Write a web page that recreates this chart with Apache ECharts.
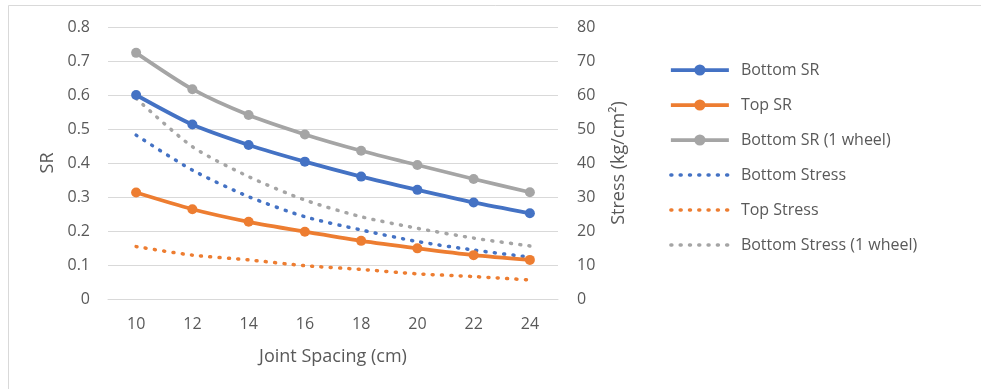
<!DOCTYPE html>
<html>
<head>
<meta charset="utf-8">
<script src="https://cdn.jsdelivr.net/npm/echarts@6/dist/echarts.min.js"></script>
<style>
  html, body { margin: 0; padding: 0; background: #fff; }
  #chart { width: 981px; height: 389px; }
</style>
</head>
<body>
<div id="chart"></div>
<script>
// Joint spacing (cm)
const categories = ['10', '12', '14', '16', '18', '20', '22', '24'];

// Stress ratio series (left axis)
const bottomSR = [0.600, 0.513, 0.453, 0.404, 0.360, 0.321, 0.284, 0.252];
const topSR = [0.313, 0.264, 0.227, 0.198, 0.171, 0.149, 0.129, 0.115];
const bottomSR1Wheel = [0.724, 0.617, 0.541, 0.484, 0.436, 0.394, 0.353, 0.314];

// Stress series in kg/cm² (right axis)
const bottomStress = [48.2, 37.9, 30.1, 24.2, 20.3, 16.9, 14.4, 12.3];
const topStress = [15.4, 12.9, 11.5, 9.8, 8.7, 7.4, 6.6, 5.6];
const bottomStress1Wheel = [59.0, 44.8, 36.0, 29.1, 24.2, 20.8, 17.9, 15.6];

const BLUE = '#4472C4', ORANGE = '#ED7D31', GRAY = '#A5A5A5';
const TEXT = '#595959', GRID = '#D9D9D9';
const FONT = 'Open Sans';
const DOTS = [1, 8.3];

function solid(name, data, color) {
  return {
    name, type: 'line', data, yAxisIndex: 0, smooth: 0.25,
    symbol: 'circle', symbolSize: 10,
    itemStyle: { color },
    lineStyle: { color, width: 3.75 },
    z: 3
  };
}
function dotted(name, data, color) {
  return {
    name, type: 'line', data, yAxisIndex: 1, smooth: 0.25,
    symbol: 'none', showSymbol: false,
    itemStyle: { color },
    lineStyle: { color, width: 3.5, type: DOTS, cap: 'round' },
    z: 2
  };
}

const chart = echarts.init(document.getElementById('chart'), null, { renderer: 'canvas' });
chart.setOption({
  animation: false,
  backgroundColor: '#fff',
  textStyle: { fontFamily: FONT, color: TEXT },
  graphic: [{
    type: 'rect', silent: true, z: -1,
    shape: { x: 8.5, y: 5.5, width: 1000, height: 420 },
    style: { fill: 'none', stroke: GRID, lineWidth: 1 }
  }],
  grid: { left: 108, right: 423, top: 27, bottom: 90 },
  legend: {
    orient: 'vertical',
    left: 664, top: 57,
    itemWidth: 58, itemHeight: 14,
    itemGap: 19,
    textStyle: { fontFamily: FONT, fontSize: 16, color: TEXT, padding: [0, 0, 0, 7] },
    data: [
      { name: 'Bottom SR', lineStyle: { width: 3.75 } },
      { name: 'Top SR', lineStyle: { width: 3.75 } },
      { name: 'Bottom SR (1 wheel)', lineStyle: { width: 3.75 } },
      { name: 'Bottom Stress', itemStyle: { opacity: 0 }, lineStyle: { width: 3.5, type: DOTS, cap: 'round' } },
      { name: 'Top Stress', itemStyle: { opacity: 0 }, lineStyle: { width: 3.5, type: DOTS, cap: 'round' } },
      { name: 'Bottom Stress (1 wheel)', itemStyle: { opacity: 0 }, lineStyle: { width: 3.5, type: DOTS, cap: 'round' } }
    ]
  },
  xAxis: {
    type: 'category', data: categories, boundaryGap: true,
    name: 'Joint Spacing (cm)', nameLocation: 'middle', nameGap: 49,
    nameTextStyle: { fontFamily: FONT, fontSize: 18, color: TEXT },
    axisLine: { show: true, lineStyle: { color: GRID } },
    axisTick: { show: false },
    axisLabel: { fontFamily: FONT, fontSize: 16, color: TEXT, margin: 17 }
  },
  yAxis: [{
    type: 'value', min: 0, max: 0.8, interval: 0.1,
    name: 'SR', nameLocation: 'middle', nameGap: 51,
    nameTextStyle: { fontFamily: FONT, fontSize: 18, color: TEXT },
    axisLine: { show: false }, axisTick: { show: false },
    axisLabel: { fontFamily: FONT, fontSize: 16, color: TEXT, margin: 18,
      formatter: v => (v === 0 ? '0' : v.toFixed(1)) },
    splitLine: { lineStyle: { color: GRID, width: 1 } }
  }, {
    type: 'value', min: 0, max: 80, interval: 10,
    name: 'Stress (kg/cm²)', nameLocation: 'middle', nameGap: 52,
    nameTextStyle: { fontFamily: FONT, fontSize: 18, color: TEXT },
    axisLine: { show: false }, axisTick: { show: false },
    axisLabel: { fontFamily: FONT, fontSize: 16, color: TEXT, margin: 19 },
    splitLine: { show: false }
  }],
  series: [
    solid('Bottom SR', bottomSR, BLUE),
    solid('Top SR', topSR, ORANGE),
    solid('Bottom SR (1 wheel)', bottomSR1Wheel, GRAY),
    dotted('Bottom Stress', bottomStress, BLUE),
    dotted('Top Stress', topStress, ORANGE),
    dotted('Bottom Stress (1 wheel)', bottomStress1Wheel, GRAY)
  ]
});
</script>
</body>
</html>
